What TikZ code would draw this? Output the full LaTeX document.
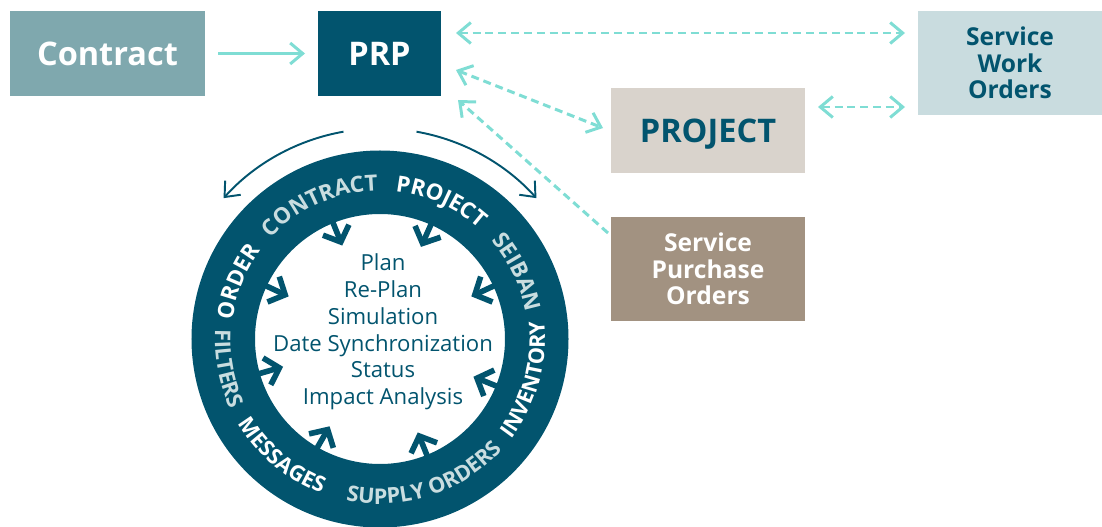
\documentclass[tikz,border=0pt]{standalone}
\usepackage{fontspec}
\setmainfont{Open Sans}
\usepackage{tikz}
\usetikzlibrary{arrows.meta,positioning,calc,decorations.text}

\definecolor{prpteal}{HTML}{02546E}
\definecolor{contractgray}{HTML}{7FA8AE}
\definecolor{swoblue}{HTML}{C9DCDF}
\definecolor{projbeige}{HTML}{D9D3CC}
\definecolor{spobrown}{HTML}{A29281}
\definecolor{linkcyan}{HTML}{7FDDD4}
\definecolor{ringlight}{HTML}{C9DDE0}
\newcommand{\ringfont}{\fontsize{12.7}{14}\selectfont\bfseries}
\newcommand{\ringfontin}{\fontsize{12.3}{14}\selectfont\bfseries}

\begin{document}
\begin{tikzpicture}[
  >={Straight Barb[length=2.5mm, width=4.2mm]},
  every node/.style={inner sep=0pt, outer sep=0pt},
  block/.style={minimum height=1.7cm, align=center, text depth=0pt,
                font=\fontsize{18.5}{22}\selectfont\bfseries},
  tallblock/.style={minimum height=2.08cm, align=center,
                font=\fontsize{14}{15}\selectfont\bfseries},
  link/.style={draw=linkcyan, line width=1.7pt},
  dashlink/.style={link, dash pattern=on 4.5pt off 2.8pt},
  feed/.style={draw=prpteal, line width=3.2pt,
               -{Straight Barb[length=2.6mm, width=5.6mm]}},
  cyclearc/.style={draw=prpteal, line width=1.1pt, ->},
  ringtext/.style={decorate, decoration={text along path, text align=center,
                   text color=#1}}
]
  \useasboundingbox (0,0) rectangle (22.04,-10.54);

  % boxes
  \node[block, fill=contractgray, text=white, minimum width=3.9cm] (contract) at (2.15,-1.07) {Contract};
  \node[block, fill=prpteal, text=white, minimum width=2.46cm] (prp) at (7.59,-1.07) {PRP};
  \node[block, fill=projbeige, text=prpteal, minimum width=3.88cm] (project) at (14.16,-2.61) {PROJECT};
  \node[tallblock, fill=swoblue, text=prpteal, minimum width=3.68cm] (swo) at (20.2,-1.26) {Service\\Work\\Orders};
  \node[tallblock, fill=spobrown, text=white, minimum width=3.88cm] (spo) at (14.16,-5.38) {Service\\Purchase\\Orders};

  % links
  \draw[link, ->, shorten <=2.6mm, shorten >=2.6mm] (contract) -- (prp);
  \draw[dashlink, <->, shorten <=3mm, shorten >=2.6mm] ([yshift=4.1mm]prp.east) -- ([yshift=4.1mm]prp.east -| swo.west);
  \draw[dashlink, <->, shorten <=2.6mm, shorten >=2.6mm] ([yshift=4.7mm]project.east) -- ([yshift=4.7mm]project.east -| swo.west);
  \draw[dashlink, <->] ([shift={(0.3,-0.33)}]prp.east) -- ([shift={(-0.16,0.05)}]project.west);
  \draw[dashlink, ->] ([shift={(-0.06,-0.32)}]spo.north west) -- ([shift={(0.34,-0.08)}]prp.south east);

  % planning cycle
  \coordinate (ctr) at (7.6,-6.78);
  \node[circle, draw=prpteal, line width=1.27cm, minimum size=6.27cm] (ring) at (ctr) {};
  \node[circle, minimum size=5.04cm] (hub) at (ctr) {};

  \draw[cyclearc] ([shift={(100:4.21)}]ctr) arc[start angle=100, end angle=138, radius=4.21];
  \draw[cyclearc] ([shift={(80:4.21)}]ctr) arc[start angle=80, end angle=42, radius=4.21];

  \path[ringtext=white, decoration={text={|\ringfont|ORDER}}] ([shift={(198:2.97)}]ctr) arc[start angle=198, end angle=118, radius=2.97];
  \path[ringtext=ringlight, decoration={text={|\ringfont|CONTRACT}}] ([shift={(160:2.97)}]ctr) arc[start angle=160, end angle=68, radius=2.97];
  \path[ringtext=white, decoration={text={|\ringfont|PROJECT}}] ([shift={(110:2.97)}]ctr) arc[start angle=110, end angle=22, radius=2.97];
  \path[ringtext=ringlight, decoration={text={|\ringfont|SEIBAN}}] ([shift={(66:2.97)}]ctr) arc[start angle=66, end angle=-14, radius=2.97];
  \path[ringtext=white, decoration={text={|\ringfontin|INVENTORY}}] ([shift={(-65.5:3.3)}]ctr) arc[start angle=-65.5, end angle=34.5, radius=3.3];
  \path[ringtext=ringlight, decoration={text={|\ringfontin|SUPPLY ORDERS}}] ([shift={(-127:3.3)}]ctr) arc[start angle=-127, end angle=-17, radius=3.3];
  \path[ringtext=white, decoration={text={|\ringfontin|MESSAGES}}] ([shift={(-178:3.3)}]ctr) arc[start angle=-178, end angle=-82, radius=3.3];
  \path[ringtext=ringlight, decoration={text={|\ringfontin|FILTERS}}] ([shift={(146:3.3)}]ctr) arc[start angle=146, end angle=236, radius=3.3];

  \foreach \a in {112,66,155,25,196,-22,-120,-68}
    \draw[feed] (hub.\a) -- ($(hub.center)!0.8!(hub.\a)$);

  \node[align=center, text=prpteal, font=\fontsize{12.6}{15.2}\selectfont] (tasks) at (7.66,-6.64)
    {Plan\\Re-Plan\\Simulation\\Date Synchronization\\Status\\Impact Analysis};
\end{tikzpicture}
\end{document}
